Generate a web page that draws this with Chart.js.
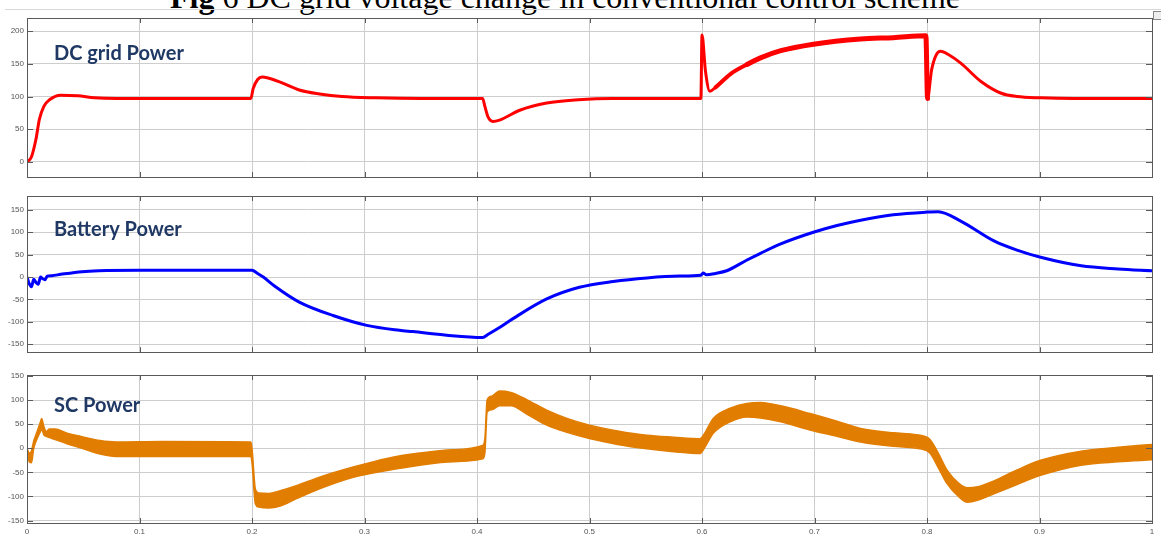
<!DOCTYPE html>
<html>
<head>
<meta charset="utf-8">
<script src="https://cdn.jsdelivr.net/npm/chart.js@4.4.1/dist/chart.umd.min.js"></script>
<style>
  html, body { margin: 0; padding: 0; background: #fff; overflow: hidden; }
  body { width: 1161px; height: 541px; position: relative; }
  canvas { position: absolute; left: 0; }
  #title { position: absolute; left: 170px; top: -19px; font-family: "Liberation Serif", serif; font-size: 32px; line-height: 32px; white-space: nowrap; color: #000; }
  #rule { position: absolute; left: 5px; right: 0; top: 9px; height: 1px; background: #d8d8d8; }
  #icon { position: absolute; left: 1153px; top: 11px; width: 7px; height: 7px; border: 1px solid #888; background: #eee; }
</style>
</head>
<body>
<div id="title"><b>Fig</b> 6 DC grid voltage change in conventional control scheme</div>
<div id="rule"></div>
<div id="icon"></div>
<canvas id="gridChart" width="1161" height="175" style="top:10px"></canvas>
<canvas id="batChart" width="1161" height="174" style="top:186px"></canvas>
<canvas id="scChart" width="1161" height="176" style="top:365px"></canvas>
<script>
// ---- data (time in s, power) ----
var gridT = [0, 0.004, 0.008, 0.011, 0.015, 0.02, 0.03, 0.045, 0.06, 0.08, 0.199,
  0.201, 0.205, 0.209, 0.215, 0.225, 0.242, 0.26, 0.28, 0.31, 0.35, 0.405,
  0.407, 0.41, 0.414, 0.42, 0.438, 0.462, 0.49, 0.52, 0.599,
  0.6, 0.603, 0.607, 0.612, 0.625, 0.64, 0.652, 0.67, 0.699, 0.741, 0.77, 0.799,
  0.8005, 0.804, 0.808, 0.812, 0.82, 0.83, 0.848, 0.866, 0.88, 0.901, 0.93, 1.0];
var gridP = [0, 8, 35, 65, 85, 95, 102, 101, 98, 97, 97,
  112, 126, 130, 128, 122, 110, 104, 100, 98, 97, 97,
  85, 68, 62, 64, 79, 90, 95, 97, 97,
  194, 140, 108, 114, 134, 149, 159, 170, 180, 188, 190, 193,
  97, 140, 163, 169, 163, 151, 123, 105, 100, 98, 97, 97];

var batT = [0, 0.002, 0.004, 0.006, 0.008, 0.010, 0.012, 0.014, 0.016, 0.018, 0.022, 0.03,
  0.049, 0.064, 0.1, 0.2, 0.205, 0.21, 0.22, 0.242, 0.272, 0.302, 0.331, 0.343, 0.373, 0.405,
  0.41, 0.42, 0.432, 0.462, 0.491, 0.521, 0.551, 0.58, 0.599, 0.601, 0.604, 0.612, 0.622,
  0.64, 0.652, 0.67, 0.699, 0.72, 0.741, 0.77, 0.8, 0.81, 0.83, 0.86, 0.88, 0.901, 0.937, 0.97, 1.0];
var batP = [0, -15, -22, -5, -12, -16, 0, -4, -6, 2, 3, 6,
  12, 14, 15, 15, 8, 0, -20, -56, -86, -108, -119, -122, -130, -135,
  -128, -113, -93, -49, -23, -10, -2, 2, 4, 9, 5, 8, 14,
  38, 53, 74, 100, 115, 127, 139, 145, 146, 125, 80, 60, 44, 25, 18, 14];

var scT = [0, 0.002, 0.004, 0.006, 0.009, 0.012, 0.013, 0.015, 0.017, 0.02, 0.025, 0.035,
  0.049, 0.065, 0.079, 0.12, 0.199, 0.2, 0.203, 0.206, 0.215, 0.225, 0.24, 0.26,
  0.29, 0.32, 0.349, 0.379, 0.405, 0.407, 0.409, 0.413, 0.42, 0.43, 0.445, 0.462,
  0.48, 0.5, 0.525, 0.551, 0.575, 0.598, 0.602, 0.61, 0.625, 0.64, 0.652, 0.67,
  0.696, 0.72, 0.741, 0.77, 0.799, 0.803, 0.81, 0.818, 0.828, 0.836, 0.845, 0.86,
  0.88, 0.901, 0.937, 0.97, 1.0];
var scHi = [0, -10, -5, 15, 35, 55, 62, 45, 35, 40, 40, 32,
  24, 16, 13, 14, 13, 0, -85, -93, -94, -88, -77, -60,
  -39, -21, -10, -3, 6, 20, 100, 108, 119, 116, 100, 79,
  62, 48, 36, 27, 23, 20, 30, 62, 83, 93, 95, 88,
  72, 56, 41, 32, 24, 17, -10, -46, -72, -82, -80, -67,
  -45, -25, -6, 2, 8];
var scLo = [0, -28, -30, 0, 20, 35, 40, 28, 25, 22, 18, 10,
  0, -12, -17, -17, -17, -30, -115, -122, -124, -120, -104, -84,
  -60, -46, -35, -28, -22, -10, 75, 80, 88, 88, 70, 48,
  33, 20, 8, -1, -7, -11, 0, 31, 55, 65, 63, 55,
  38, 25, 13, 4, -4, -11, -40, -74, -100, -112, -108, -94,
  -75, -56, -35, -28, -24];

var xTicks = [0, 0.1, 0.2, 0.3, 0.4, 0.5, 0.6, 0.7, 0.8, 0.9, 1];
var gridTicks = [0, 50, 100, 150, 200];
var batTicks = [-150, -100, -50, 0, 50, 100, 150];
var scTicks = [-150, -100, -50, 0, 50, 100, 150];

function pts(t, v) {
  return t.map(function (x, i) { return { x: x, y: v[i] }; });
}

// frame, inner tick marks and the panel caption
var panelPlugin = {
  id: 'panel',
  afterDraw: function (chart) {
    var ctx = chart.ctx, a = chart.chartArea;
    var xs = chart.scales.x, ys = chart.scales.y;
    ctx.save();
    ctx.strokeStyle = '#5a5a5a';
    ctx.lineWidth = 1;
    ctx.beginPath();
    xTicks.forEach(function (v) {
      var px = Math.round(xs.getPixelForValue(v)) + 0.5;
      ctx.moveTo(px, a.top); ctx.lineTo(px, a.top + 5);
      ctx.moveTo(px, a.bottom); ctx.lineTo(px, a.bottom - 5);
    });
    ys.ticks.forEach(function (t) {
      var py = Math.round(ys.getPixelForValue(t.value)) + 0.5;
      ctx.moveTo(a.left, py); ctx.lineTo(a.left + 6, py);
      ctx.moveTo(a.right, py); ctx.lineTo(a.right - 6, py);
    });
    ctx.stroke();
    ctx.strokeRect(Math.round(a.left) + 0.5, Math.round(a.top) + 0.5,
      Math.round(a.right - a.left), Math.round(a.bottom - a.top));
    var cap = chart.options.plugins.panel;
    ctx.fillStyle = '#1f3864';
    ctx.font = 'bold 20px Lato, "Open Sans", sans-serif';
    ctx.textBaseline = 'middle';
    ctx.fillText(cap.text, 54, cap.y);
    ctx.restore();
  }
};

function makePanel(id, datasets, yMin, yMax, yTicks, caption, capY, showX, pad) {
  return new Chart(document.getElementById(id), {
    type: 'line',
    data: { datasets: datasets },
    options: {
      responsive: false,
      animation: false,
      events: [],
      layout: { padding: pad },
      elements: { point: { radius: 0 }, line: { cubicInterpolationMode: 'monotone' } },
      plugins: {
        legend: { display: false },
        tooltip: { enabled: false },
        panel: { text: caption, y: capY }
      },
      scales: {
        x: {
          type: 'linear', min: 0, max: 1,
          afterBuildTicks: function (s) { s.ticks = xTicks.map(function (v) { return { value: v }; }); },
          afterFit: function (s) { s.height = showX ? 14 : 0; },
          grid: { color: '#cdcdcd', drawTicks: false },
          border: { display: false },
          ticks: {
            display: showX, padding: 4, color: '#555',
            font: { family: 'Liberation Sans, Arial', size: 8 },
            maxRotation: 0, autoSkip: false,
            callback: function (v) { return String(Math.round(v * 10) / 10); }
          }
        },
        y: {
          min: yMin, max: yMax,
          afterBuildTicks: function (s) { s.ticks = yTicks.map(function (v) { return { value: v }; }); },
          afterFit: function (s) { s.width = 27; },
          grid: { color: '#cdcdcd', drawTicks: false },
          border: { display: false },
          ticks: {
            padding: 3, color: '#555',
            font: { family: 'Liberation Sans, Arial', size: 8 }
          }
        }
      }
    },
    plugins: [panelPlugin]
  });
}

//-------------
//- DC GRID -
//-------------
makePanel('gridChart', [{
  data: pts(gridT, gridP), borderColor: '#ff0000', borderWidth: 3,
  borderCapStyle: 'round', borderJoinStyle: 'round',
  // the trace gets noisier (thicker) while the load is high
  segment: {
    borderWidth: function (c) {
      var x = c.p0.parsed.x;
      if (x >= 0.64 && x < 0.8) return 5;
      if (x >= 0.612 && x < 0.64) return 4;
      return 3;
    }
  }
}], -23, 220, gridTicks, 'DC grid Power', 44, false, { top: 8, bottom: 8, left: 0, right: 9 });

//-------------
//- BATTERY -
//-------------
makePanel('batChart', [{
  data: pts(batT, batP), borderColor: '#0000ff', borderWidth: 3
}], -168, 181, batTicks, 'Battery Power', 44, false, { top: 10, bottom: 6, left: 0, right: 9 });

//-------------
//- SC -
//-------------
makePanel('scChart', [{
  data: pts(scT, scHi), borderColor: '#e17d00', borderWidth: 1.5, fill: false
}, {
  data: pts(scT, scLo), borderColor: '#e17d00', borderWidth: 1.5,
  fill: '-1', backgroundColor: '#e17d00'
}], -155, 152, scTicks, 'SC Power', 41, true, { top: 10, bottom: 4, left: 0, right: 9 });
</script>
</body>
</html>
